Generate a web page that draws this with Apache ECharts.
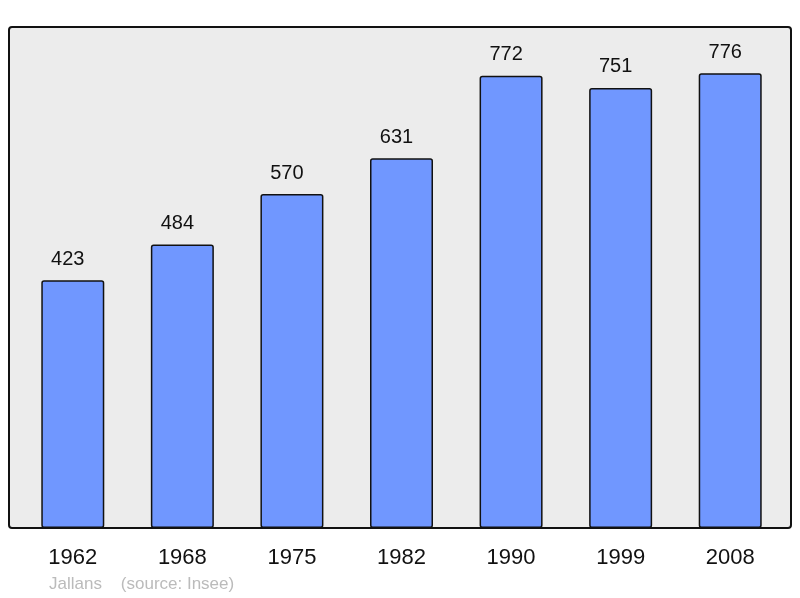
<!DOCTYPE html>
<html>
<head>
<meta charset="utf-8">
<script src="https://cdn.jsdelivr.net/npm/echarts@6/dist/echarts.min.js"></script>
<style>
  html, body { margin: 0; padding: 0; background: #fff; }
  #chart { width: 800px; height: 598px; }
</style>
</head>
<body>
<div id="chart"></div>
<script>
// population data
var years = ["1962", "1968", "1975", "1982", "1990", "1999", "2008"];
var population = [423, 484, 570, 631, 772, 751, 776];
var commune = "Jallans";
var source = "(source: Insee)";

var myChart = echarts.init(document.getElementById("chart"));

var option = {
  animation: false,
  textStyle: { fontFamily: "Liberation Sans, Arial, sans-serif" },
  graphic: [
    {
      type: "rect",
      z: -10,
      silent: true,
      shape: { x: 9, y: 27, width: 782, height: 501, r: 3 },
      style: { fill: "#ececec", stroke: "#111", lineWidth: 2 }
    },
    {
      type: "text",
      left: 49,
      top: 576,
      style: {
        text: commune + "    " + source,
        fill: "#bbbbbb",
        font: "17px Liberation Sans, Arial, sans-serif"
      }
    }
  ],
  grid: { left: 18, right: 15, top: 27, bottom: 70 },
  xAxis: {
    type: "category",
    data: years,
    axisLine: { show: false },
    axisTick: { show: false },
    axisLabel: { color: "#111", fontSize: 22, margin: 19 }
  },
  yAxis: {
    type: "value",
    min: 0,
    max: 855,
    show: false,
    splitLine: { show: false }
  },
  series: [
    {
      type: "bar",
      data: population,
      barWidth: 63,
      itemStyle: {
        color: "#7097ff",
        borderColor: "#111",
        borderWidth: 1.5,
        borderRadius: 2
      },
      label: {
        show: true,
        position: "top",
        distance: 11,
        offset: [-5, 0],
        color: "#111",
        fontSize: 20
      }
    }
  ]
};

myChart.setOption(option);
window.onresize = function() {
  myChart.resize();
};
</script>
</body>
</html>
